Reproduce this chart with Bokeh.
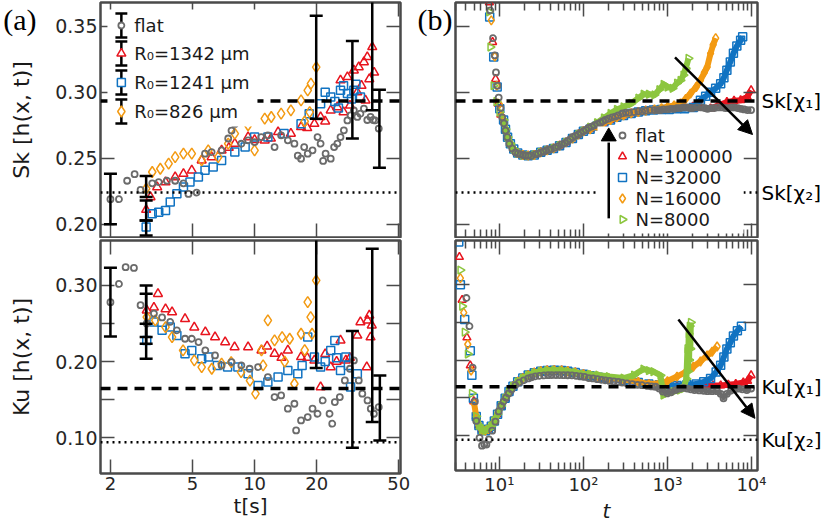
import numpy as np
from bokeh.plotting import figure
from bokeh.models import (Range1d, LinearAxis, LogAxis, FixedTicker, Whisker, TeeHead,
                          ColumnDataSource, Span, Arrow, NormalHead, BoxAnnotation, Label)
from bokeh.layouts import row, column
from bokeh.embed import file_html
from bokeh.resources import INLINE

# ------------------------------------------------------------------ ticks
a_xticks = [2, 5, 10, 20, 50]
a_xtick_labels = ["2", "5", "10", "20", "50"]
b_xticks = [10, 100, 1000, 10000]
b_xtick_labels = ["10¹", "10²", "10³", "10⁴"]
b_xminor = [m * 10 ** e for e in range(0, 4) for m in range(2, 10)]
sk_yticks = [0.20, 0.25, 0.30, 0.35]
sk_ytick_labels = ["0.20", "0.25", "0.30", "0.35"]
ku_yticks = [0.10, 0.20, 0.30]
ku_ytick_labels = ["0.10", "0.20", "0.30"]
ku_yminor = [0.15, 0.25]

# reference values: [chi1 (dashed), chi2 (dotted)]
sk_chi = [0.2934, 0.2240]
ku_chi = [0.1645, 0.0940]
sk_chi_labels = ["Sk[χ₁]", "Sk[χ₂]"]
ku_chi_labels = ["Ku[χ₁]", "Ku[χ₂]"]
a_legend_labels = ["flat", "R₀=1342 µm", "R₀=1241 µm", "R₀=826 µm"]
b_legend_labels = ["flat", "N=100000", "N=32000", "N=16000", "N=8000"]

# ------------------------------------------------------------------ panel (a): (t [s], value)
a_sk_flat = [(2.0,0.219),(2.2,0.219),(2.41,0.233),(2.62,0.238),(2.8,0.226),(3.19,0.231),(3.43,0.232),
             (3.76,0.233),(4.12,0.233),(4.52,0.231),(4.78,0.223),(5.24,0.224),(5.75,0.2535),(6.19,0.2547),
             (6.92,0.256),(7.45,0.265),(7.73,0.271),(8.02,0.276),(8.63,0.261),(9.3,0.2636),(10.0,0.2623),
             (10.77,0.2661),(11.6,0.2674),(12.5,0.2585),(13.45,0.2674),(14.5,0.2636),(15.6,0.2611),
             (16.2,0.2520),(16.8,0.2497),(17.4,0.2585),(18.1,0.2535),(19.1,0.256),(20.2,0.2661),
             (20.9,0.2611),(21.5,0.2480),(22.1,0.2535),(23.4,0.2497),(24.3,0.2585),(25.2,0.2611),
             (26.1,0.2661),(27.1,0.2712),(28.2,0.2787),(29.2,0.2825),(30.3,0.2863),(31.5,0.2813),
             (32.6,0.2838),(33.9,0.2876),(35.2,0.279),(36.5,0.2813),(37.6,0.2790),(38.5,0.2787),(40.0,0.2725)]
a_sk_r1342 = [(2.98,0.211),(3.13,0.2206),(3.37,0.2282),(3.70,0.232),(4.12,0.2358),(4.52,0.2383),
              (4.96,0.2409),(5.54,0.2484),(6.19,0.2509),(6.92,0.256),(7.5,0.2580),(8.02,0.2611),
              (9.3,0.2661),(10.0,0.2640),(11.2,0.2636),(12.0,0.2650),(13.0,0.2699),(15.0,0.2687),
              (16.8,0.2737),(18.0,0.2730),(19.5,0.2762),(20.9,0.2813),(22.0,0.2780),(23.4,0.2863),
              (25.2,0.2888),(26.1,0.3091),(27.0,0.2850),(28.2,0.3116),(29.0,0.2900),(30.3,0.3166),
              (31.5,0.3000),(32.0,0.3191),(33.0,0.3050),(33.9,0.3229),(34.5,0.2939),(35.2,0.3267),
              (36.0,0.3100),(37.2,0.3343),(38.0,0.3150)]
a_sk_r1241 = [(2.98,0.198),(3.19,0.208),(3.43,0.2092),(3.70,0.2105),(3.90,0.2168),(4.20,0.2232),
              (4.52,0.2282),(4.86,0.232),(5.34,0.2358),(5.75,0.2409),(6.30,0.2434),(6.92,0.2484),
              (8.02,0.2547),(9.0,0.2585),(10.0,0.2661),(11.6,0.2661),(13.9,0.2687),(16.8,0.2762),
              (18.4,0.2838),(20.9,0.2914),(22.0,0.3000),(23.4,0.2964),(24.5,0.2930),(25.5,0.2880),
              (26.1,0.3015),(27.0,0.3050),(28.2,0.2990),(29.5,0.2950),(30.3,0.3015),(31.0,0.3060),(32.6,0.2964)]
a_sk_r826 = [(2.98,0.227),(3.19,0.2396),(3.49,0.2421),(3.83,0.2459),(4.12,0.2509),(4.52,0.2535),
             (4.96,0.2535),(5.54,0.2484),(5.96,0.256),(6.66,0.2509),(7.45,0.2611),(8.02,0.2687),
             (9.3,0.275),(10.0,0.256),(11.2,0.28),(12.05,0.2813),(13.45,0.2838),(15.0,0.2863),
             (16.8,0.2939),(17.5,0.2780),(18.1,0.3015),(18.5,0.2850),(18.76,0.3066),(19.9,0.3191)]
# error bars (t, lower, upper)
a_sk_err = [(2.0,0.200,0.2383),(2.98,0.2206,0.2365),(2.98,0.2029,0.2181),(2.98,0.1916,0.2029),
            (19.9,0.280,0.358),(29.8,0.2649,0.3389),(37.2,0.2863,0.40),(40.3,0.2429,0.3020)]

a_ku_flat = [(2.0,0.278),(2.2,0.302),(2.37,0.324),(2.6,0.323),(2.8,0.274),(3.0,0.250),(3.25,0.263),
             (3.56,0.258),(3.9,0.252),(4.2,0.241),(4.6,0.230),(4.96,0.230),(5.35,0.2256),(5.77,0.2147),
             (6.43,0.2081),(6.92,0.195),(7.73,0.1993),(8.63,0.195),(9.46,0.1906),(10.4,0.1928),
             (11.6,0.1797),(12.5,0.1534),(13.45,0.1556),(14.5,0.1381),(15.6,0.1446),(15.9,0.1096),
             (16.8,0.1227),(18.1,0.1271),(19.1,0.1381),(20.2,0.1315),(21.4,0.149),(23.1,0.1315),
             (23.8,0.1184),(24.5,0.1468),(25.9,0.1534),(27.4,0.1753),(29.0,0.1906),(30.3,0.2015),
             (32.0,0.1753),(33.3,0.1578),(35.3,0.149),(36.6,0.1381),(37.9,0.1315),(40.0,0.1403)]
a_ku_r1342 = [(3.0,0.2672),(3.25,0.271),(3.4,0.289),(3.7,0.269),(3.98,0.265),(4.6,0.256),(5.1,0.245),
              (5.77,0.2388),(6.43,0.2322),(7.2,0.2256),(8.0,0.219),(9.3,0.219),(10.8,0.2147),(11.5,0.220),
              (12.5,0.2103),(13.5,0.205),(14.5,0.2147),(16.8,0.206),(18.0,0.205),(19.5,0.2016),
              (20.9,0.1665),(22.0,0.210),(23.4,0.1928),(25.0,0.200),(26.1,0.2278),(27.7,0.2016),
              (29.0,0.205),(31.5,0.2343),(32.6,0.2519),(35.0,0.1928),(35.3,0.254),(36.0,0.2606),
              (36.5,0.232),(37.0,0.2475)]
a_ku_r1241 = [(3.0,0.2278),(3.25,0.2519),(3.56,0.241),(3.9,0.2453),(4.2,0.2343),(4.6,0.2103),
              (4.96,0.2147),(5.54,0.2037),(5.98,0.206),(6.6,0.195),(7.4,0.1928),(8.3,0.1928),(9.3,0.184),
              (10.4,0.1687),(11.6,0.1731),(13.0,0.1797),(14.5,0.1884),(16.2,0.184),(17.0,0.195),
              (18.1,0.2322),(19.5,0.206),(20.9,0.1928),(22.0,0.200),(23.4,0.2147),(24.5,0.2278),
              (25.0,0.205),(26.1,0.1884),(27.7,0.206),(28.5,0.195),(29.2,0.1665),(31.5,0.184)]
a_ku_r826 = [(3.0,0.2584),(3.3,0.254),(3.7,0.2453),(3.98,0.232),(4.5,0.2147),(5.1,0.2016),(5.54,0.1928),
             (6.2,0.1906),(6.92,0.1972),(7.7,0.1993),(8.6,0.1862),(9.5,0.175),(10.1,0.1578),(10.8,0.2147),
             (11.0,0.195),(11.6,0.254),(12.5,0.2278),(13.6,0.232),(14.0,0.200),(14.8,0.230),(15.6,0.1709),
             (16.8,0.2365),(17.5,0.215),(18.1,0.278),(18.7,0.2584),(19.0,0.2365),(19.9,0.3066)]
a_ku_err = [(2.0,0.233,0.3232),(2.98,0.2322,0.300),(2.98,0.2234,0.2891),(2.98,0.2037,0.2497),
            (19.9,0.1914,0.45),(29.8,0.0869,0.240),(37.2,0.1205,0.3482),(40.5,0.0965,0.1818)]

# ------------------------------------------------------------------ panel (b): (t, value)
b_sk_flat = [(7.8,0.362),(8.4,0.341),(8.8,0.328),(9.1,0.315),(9.5,0.305),(9.8,0.296),(10.3,0.288),
             (10.8,0.281),(11.3,0.2765),(11.8,0.271),(12.4,0.266),(13.1,0.261),(14.2,0.2575),(15.5,0.2545),
             (16.6,0.2535),(17.8,0.253),(19.1,0.2525),(20.4,0.252),(22,0.252),(24,0.252),(26.8,0.253),
             (29,0.2535),(31,0.2545),(33.5,0.255),(36,0.256),(38.5,0.2565),(41,0.257),(46,0.258),(50,0.259),
             (55,0.2605),(60,0.2615),(65,0.263),(70,0.2645),(74,0.266),(80,0.267),(87,0.268),(93,0.2695),
             (100,0.2705),(107,0.2715),(115,0.273),(125,0.274),(135,0.275),(147,0.276),(160,0.277),
             (170,0.278),(183,0.279),(200,0.280),(220,0.281),(240,0.2815),(260,0.2825),(291,0.284),
             (320,0.2845),(350,0.2845),(400,0.285),(450,0.2855),(500,0.2855),(550,0.286),(620,0.2865),
             (700,0.2865),(760,0.2865),(825,0.2865),(900,0.287),(1000,0.287),(1100,0.2875),(1200,0.2875),
             (1300,0.288),(1420,0.288),(1550,0.2885),(1700,0.2885),(1850,0.288),(2000,0.288),(2250,0.2885),
             (2540,0.2885),(2800,0.288),(3000,0.2875),(3300,0.288),(3600,0.288),(4000,0.2885),(4450,0.2885),
             (4900,0.288),(5300,0.288),(5800,0.2885),(6300,0.2885),(6900,0.288),(7500,0.2875),(8200,0.287),
             (9000,0.2865),(9900,0.2865)]
b_sk_common = [(11.2,0.279),(11.8,0.272),(12.5,0.266),(13.5,0.261),(14.8,0.257),(16.5,0.254),(19,0.2525),
               (22,0.252),(26,0.2525),(31,0.2545),(37,0.256),(44,0.2575),(52,0.2595),(62,0.262),(74,0.265),
               (87,0.268),(100,0.2705)]
b_sk_n100000 = [(7.6,0.368),(8.3,0.338),(9.0,0.310),(9.65,0.2914),(10.4,0.283)] + b_sk_common + [
    (120,0.272),(145,0.2745),(175,0.277),(210,0.279),(250,0.281),(300,0.2825),(370,0.284),(450,0.285),
    (550,0.286),(680,0.2865),(850,0.287),(1050,0.2875),(1300,0.288),(1600,0.2885),(2000,0.289),
    (2500,0.2885),(3260,0.2878),(4000,0.290),(5100,0.2926),(6200,0.2935),(7430,0.294),(8900,0.2964),(9900,0.3015)]
b_sk_n32000 = [(7.66,0.357),(8.55,0.3267),(9.4,0.304),(10.1,0.2876)] + b_sk_common + [
    (120,0.272),(145,0.2745),(175,0.277),(210,0.279),(250,0.281),(300,0.2825),(370,0.284),(450,0.285),
    (550,0.286),(680,0.2865),(850,0.287),(1050,0.287),(1300,0.2875),(1600,0.2875),(2030,0.2885),
    (2470,0.294),(2850,0.297),(3260,0.300),(3750,0.303),(4300,0.3065),(4700,0.311),(5100,0.3167),
    (5600,0.323),(6100,0.3295),(6700,0.335),(7430,0.3394),(7860,0.342)]
b_sk_n16000 = [(8.0,0.3545),(8.8,0.327),(9.3,0.305),(10.0,0.291),(10.6,0.282)] + b_sk_common + [
    (120,0.272),(145,0.2745),(175,0.277),(210,0.279),(250,0.281),(300,0.2825),(370,0.284),(450,0.285),
    (550,0.286),(700,0.287),(850,0.288),(1000,0.289),(1200,0.290),(1430,0.2915),(1650,0.295),
    (1880,0.299),(2200,0.304),(2470,0.309),(2750,0.315),(2970,0.319),(3260,0.3295),(3500,0.336),(3750,0.341)]
b_sk_n8000 = [(7.54,0.361),(7.8,0.3343),(8.5,0.305),(9.2,0.293),(10.0,0.285)] + b_sk_common + [
    (120,0.2735),(145,0.277),(175,0.2805),(210,0.284),(250,0.287),(300,0.289),(370,0.2915),(450,0.2955),
    (520,0.2985),(600,0.2985),(700,0.298),(800,0.302),(900,0.306),(1000,0.304),(1150,0.303),(1300,0.307),
    (1430,0.309),(1550,0.313),(1650,0.318),(1780,0.3257)]

b_ku_flat = [(4.05,0.2825),(4.4,0.245),(4.8,0.19),(5.1,0.145),(5.3,0.119),(5.8,0.0965),(6.2,0.086),
             (6.6,0.088),(7.0,0.0875),(7.5,0.0943),(8.2,0.106),(8.96,0.118),(9.8,0.1316),(10.5,0.139),
             (11.2,0.1447),(12.0,0.150),(12.9,0.1556),(14.0,0.161),(15.5,0.1665),(17.2,0.170),(19.5,0.173),
             (22,0.1755),(24,0.177),(26.8,0.1783),(30,0.179),(34,0.1795),(38,0.1798),(42,0.180),(47,0.180),
             (52,0.180),(58,0.1798),(65,0.1797),(73,0.1796),(82,0.179),(92,0.1782),(103,0.1775),(116,0.176),
             (130,0.1755),(147,0.1745),(165,0.1737),(183,0.173),(205,0.1722),(230,0.1715),(260,0.1708),
             (289,0.170),(330,0.169),(380,0.168),(440,0.167),(500,0.1665),(580,0.1655),(650,0.1648),
             (720,0.1644),(800,0.162),(880,0.158),(990,0.1556),(1100,0.157),(1250,0.160),(1400,0.162),
             (1550,0.163),(1720,0.162),(1900,0.161),(2100,0.160),(2400,0.1595),(2700,0.159),(3000,0.1585),
             (3400,0.1586),(3900,0.1586),(4300,0.155),(4650,0.149),(5100,0.155),(5700,0.159),(6300,0.161),
             (7000,0.162),(7800,0.161),(8800,0.160),(9900,0.162)]
b_ku_common = [(5.3,0.125),(5.7,0.113),(6.2,0.107),(6.8,0.106),(7.4,0.108),(8.0,0.112),(8.7,0.119),
               (9.5,0.128),(10.5,0.139),(11.7,0.149),(13,0.158),(14.5,0.165),(16.5,0.171),(19,0.176),
               (22,0.180),(26,0.183),(31,0.185),(37,0.186),(45,0.1865),(55,0.186),(65,0.185),(80,0.1835),(100,0.181)]
b_ku_n100000 = [(3.34,0.337),(3.6,0.280),(4.1,0.230),(4.5,0.1927),(4.95,0.145)] + b_ku_common + [
    (120,0.179),(150,0.177),(200,0.175),(300,0.173),(450,0.170),(600,0.168),(800,0.166),(1000,0.165),
    (1300,0.165),(1700,0.165),(2200,0.164),(2800,0.165),(3500,0.166),(4300,0.166),(5300,0.167),
    (6500,0.168),(8000,0.170),(9000,0.172),(9900,0.1796)]
b_ku_n32000 = [(3.28,0.357),(3.43,0.300),(3.86,0.254),(4.5,0.2124),(4.7,0.1796),(4.9,0.149)] + b_ku_common + [
    (120,0.179),(150,0.177),(200,0.175),(300,0.173),(450,0.170),(600,0.168),(800,0.167),(1000,0.166),
    (1300,0.166),(1700,0.167),(2200,0.168),(2700,0.171),(3260,0.1753),(3800,0.184),(4300,0.193),
    (4700,0.204),(5100,0.2146),(5600,0.223),(6100,0.232),(6800,0.239),(7600,0.245)]
b_ku_n16000 = [(3.43,0.309),(3.76,0.263),(4.2,0.221),(4.6,0.186),(5.0,0.142)] + b_ku_common + [
    (120,0.180),(150,0.178),(200,0.176),(300,0.174),(450,0.171),(600,0.168),(800,0.169),(1000,0.172),
    (1300,0.178),(1650,0.184),(2030,0.191),(2470,0.198),(2970,0.206),(3400,0.211),(3900,0.218)]
b_ku_n8000 = [(3.43,0.3197),(3.6,0.2715),(3.86,0.237),(4.2,0.208),(4.7,0.1556)] + b_ku_common + [
    (120,0.181),(150,0.180),(200,0.178),(300,0.176),(400,0.180),(518,0.188),(600,0.186),(680,0.1845),
    (826,0.1796),(896,0.1533),(1000,0.156),(1180,0.158),(1400,0.160),(1550,0.162),(1680,0.175),
    (1730,0.215),(1760,0.185),(1790,0.235),(1810,0.200),(1840,0.245),(1870,0.215),(1900,0.250)]

# arrows in panel (b): (t_start, v_start, t_end, v_end)
b_sk_arrow = (1230, 0.3265, 10300, 0.268)
b_sk_up_arrow = (200, 0.2045, 200, 0.271)
b_ku_arrow = (1350, 0.254, 11000, 0.1224)

# ------------------------------------------------------------------ style / layout
FONT = "DejaVu Sans"
FRAME = "#4a4a4a"
C_FLAT, C_R, C_B, C_O, C_G = "#6b6b6b", "#e8141e", "#1173c2", "#f39a12", "#8cc63f"
A_XR, B_XR = (1.79, 51.0), (3.0, 11800.0)
SK_YR, KU_YR = (0.190, 0.368), (0.053, 0.359)
FW = 302
TOP_FH, BOT_FH = 235, 233
A_BL, A_BR, B_BL, B_BR = 98, 13, 42, 74
T_BT, T_BB, B_BT, B_BB = 2, 1, 2, 52
# legends: pixel offsets inside the frame
A_LEG = dict(rows=[23, 51, 80, 109], mark=21, text=34, box=(7, 158, 7, 124))
B_LEG = dict(rows=[133, 154, 175, 196, 217], mark=167, text=180, box=(142, 288, 124, 231))
LEG_HALF_BAR, LEG_HALF_CAP = 12, 6


def make_panel(xr, yr, fh, bt, bb, bl, br):
    p = figure(width=bl + FW + br, height=bt + fh + bb, x_axis_type="log",
               x_range=Range1d(*xr), y_range=Range1d(*yr),
               output_backend="svg", toolbar_location=None,
               min_border_top=bt, min_border_bottom=bb, min_border_left=bl, min_border_right=br)
    p.xgrid.visible = False
    p.ygrid.visible = False
    p.outline_line_color = FRAME
    p.outline_line_width = 2.5
    p.add_layout(LogAxis(), "above")
    p.add_layout(LinearAxis(), "right")
    return p


def style_axis(ax, ticks, labels=None, minor=(), minor_len=8):
    ax.ticker = FixedTicker(ticks=list(ticks), minor_ticks=list(minor))
    ax.axis_line_color = None
    ax.major_tick_in = 14
    ax.major_tick_out = 0
    ax.minor_tick_in = minor_len
    ax.minor_tick_out = 0
    ax.major_tick_line_color = FRAME
    ax.minor_tick_line_color = FRAME
    ax.major_tick_line_width = 1.5
    ax.minor_tick_line_width = 1.5
    if labels is None:
        ax.major_label_text_color = None
        ax.major_label_text_font_size = "0px"
        ax.major_label_standoff = 0
    else:
        ax.major_label_overrides = {t: l for t, l in zip(ticks, labels)}
        ax.major_label_text_font = FONT
        ax.major_label_text_font_size = "19px"
        ax.major_label_text_color = "#262626"
        ax.major_label_standoff = 3


def axis_label(ax, text, size="22px", style="normal", standoff=8):
    ax.axis_label = text
    ax.axis_label_text_font = FONT
    ax.axis_label_text_font_size = size
    ax.axis_label_text_font_style = style
    ax.axis_label_text_color = "#1a1a1a"
    ax.axis_label_standoff = standoff


def text_axis(p, side, vals, labels, standoff, font=FONT, size="20px"):
    """an axis without ticks whose labels are plain texts placed at given values"""
    ax = LinearAxis(ticker=FixedTicker(ticks=list(vals)), major_label_overrides=dict(zip(vals, labels)))
    ax.axis_line_color = None
    ax.major_tick_in = 0
    ax.major_tick_out = 0
    ax.minor_tick_in = 0
    ax.minor_tick_out = 0
    ax.major_label_standoff = standoff
    ax.major_label_text_font = font
    ax.major_label_text_font_size = size
    ax.major_label_text_color = "black"
    p.add_layout(ax, side)


def pts(p, pairs, marker, color, size, lw=1.5, angle=0.0):
    t, v = zip(*pairs)
    return p.scatter(list(t), list(v), marker=marker, size=size, angle=angle,
                     line_color=color, fill_color=None, line_width=lw)


def band(p, pairs, color, width, t_min):
    arr = np.array(pairs)
    m = arr[:, 0] >= t_min
    p.line(arr[m, 0], arr[m, 1], line_color=color, line_width=width, line_join="round")


def errbars(p, triples):
    t, lo, hi = zip(*triples)
    src = ColumnDataSource(dict(t=list(t), lo=list(lo), hi=list(hi)))
    p.add_layout(Whisker(source=src, base="t", lower="lo", upper="hi", dimension="height",
                         line_color="black", line_width=2.5, level="annotation",
                         upper_head=TeeHead(size=13, line_width=2.5, line_color="black"),
                         lower_head=TeeHead(size=13, line_width=2.5, line_color="black")))


def ref_lines(p, chi):
    p.add_layout(Span(location=chi[0], dimension="width", line_color="black",
                      line_width=3.5, line_dash="10 7"))
    p.add_layout(Span(location=chi[1], dimension="width", line_color="black",
                      line_width=2.5, line_dash="2 4"))


def arrow(p, a):
    p.add_layout(Arrow(x_start=a[0], y_start=a[1], x_end=a[2], y_end=a[3], line_width=2.5,
                       line_color="black", level="overlay",
                       end=NormalHead(size=14, fill_color="black", line_color="black")))


def px_to_data(xr, yr, fh, px, py):
    """pixel offset from the top-left corner of a frame -> data coordinates"""
    lx0, lx1 = np.log10(xr[0]), np.log10(xr[1])
    x = 10 ** (lx0 + px / FW * (lx1 - lx0))
    y = yr[1] - py / fh * (yr[1] - yr[0])
    return float(x), float(y)


def manual_legend(p, xr, yr, fh, leg, styles, labels, bars=False):
    c = lambda px, py: px_to_data(xr, yr, fh, px, py)
    x0, y0 = c(leg["box"][0], leg["box"][2])
    x1, y1 = c(leg["box"][1], leg["box"][3])
    p.add_layout(BoxAnnotation(left=x0, right=x1, top=y0, bottom=y1, fill_color="white",
                               fill_alpha=1.0, line_color=None))
    for py, (mk, col, sz, lw, ang), lab in zip(leg["rows"], styles, labels):
        xm, yc = c(leg["mark"], py)
        if bars:
            _, ylo = c(0, py + LEG_HALF_BAR)
            _, yhi = c(0, py - LEG_HALF_BAR)
            xl, _ = c(leg["mark"] - LEG_HALF_CAP, py)
            xr_, _ = c(leg["mark"] + LEG_HALF_CAP, py)
            s = p.segment(x0=[xm, xl, xl], y0=[ylo, ylo, yhi], x1=[xm, xr_, xr_], y1=[yhi, ylo, yhi],
                          line_color="black", line_width=2.5)
            s.level = "overlay"
        r = p.scatter([xm], [yc], marker=mk, size=sz, angle=ang, line_color=col,
                      fill_color="white", line_width=lw)
        r.level = "overlay"
        xt, _ = c(leg["text"], py)
        p.add_layout(Label(x=xt, y=yc, text=lab, text_baseline="middle", text_align="left",
                           text_font=FONT, text_font_size="18px", text_color="#1a1a1a"))


# ------------------------------------------------------------------ panel (a) top
tl = make_panel(A_XR, SK_YR, TOP_FH, T_BT, T_BB, A_BL, A_BR)
style_axis(tl.below[0], a_xticks)
style_axis(tl.above[0], a_xticks)
style_axis(tl.left[0], sk_yticks, sk_ytick_labels)
style_axis(tl.right[0], sk_yticks)
axis_label(tl.left[0], "Sk [h(x, t)]", standoff=18)
_, tag_y = px_to_data(A_XR, SK_YR, TOP_FH, 0, 17)
text_axis(tl, "left", [tag_y], ["(a)"], -30, font="Liberation Serif", size="30px")
ref_lines(tl, sk_chi)
a_styles = [("circle", C_FLAT, 6, 1.8, 0.0), ("triangle", C_R, 9, 1.5, 0.0),
            ("square", C_B, 8, 1.5, 0.0), ("diamond", C_O, 11, 1.5, 0.0)]
a_sk_series = [a_sk_flat, a_sk_r1342, a_sk_r1241, a_sk_r826]
for k in (1, 2, 3, 0):
    mk, col, sz, lw, _ = a_styles[k]
    pts(tl, a_sk_series[k], mk, col, sz, lw=lw)
errbars(tl, a_sk_err)
manual_legend(tl, A_XR, SK_YR, TOP_FH, A_LEG, a_styles, a_legend_labels, bars=True)

# ------------------------------------------------------------------ panel (a) bottom
bl = make_panel(A_XR, KU_YR, BOT_FH, B_BT, B_BB, A_BL, A_BR)
style_axis(bl.below[0], a_xticks, a_xtick_labels)
style_axis(bl.above[0], a_xticks)
style_axis(bl.left[0], ku_yticks, ku_ytick_labels, minor=ku_yminor, minor_len=14)
style_axis(bl.right[0], ku_yticks, minor=ku_yminor, minor_len=14)
bl.below[0].major_label_text_font_size = "18px"
axis_label(bl.left[0], "Ku [h(x, t)]", standoff=18)
axis_label(bl.below[0], "t[s]", size="20px", standoff=1)
ref_lines(bl, ku_chi)
a_ku_series = [a_ku_flat, a_ku_r1342, a_ku_r1241, a_ku_r826]
for k in (1, 2, 3, 0):
    mk, col, sz, lw, _ = a_styles[k]
    pts(bl, a_ku_series[k], mk, col, sz, lw=lw)
errbars(bl, a_ku_err)

# ------------------------------------------------------------------ panel (b) top
tr = make_panel(B_XR, SK_YR, TOP_FH, T_BT, T_BB, B_BL, B_BR)
style_axis(tr.below[0], b_xticks, minor=b_xminor)
style_axis(tr.above[0], b_xticks, minor=b_xminor)
style_axis(tr.left[0], sk_yticks)
style_axis(tr.right[0], sk_yticks)
text_axis(tr, "right", sk_chi, sk_chi_labels, 4)
text_axis(tr, "left", [tag_y], ["(b)"], 3, font="Liberation Serif", size="30px")
ref_lines(tr, sk_chi)
b_styles = [("circle", C_FLAT, 6, 1.8, 0.0), ("triangle", C_R, 8, 1.5, 0.0),
            ("square", C_B, 8, 1.5, 0.0), ("diamond", C_O, 9, 1.5, 0.0),
            ("triangle", C_G, 8, 1.5, -np.pi / 2)]
b_sk_series = [b_sk_flat, b_sk_n100000, b_sk_n32000, b_sk_n16000, b_sk_n8000]
for k in (1, 2, 3, 4):
    mk, col, sz, lw, ang = b_styles[k]
    band(tr, b_sk_series[k], col, 6, 11)
    pts(tr, b_sk_series[k], mk, col, sz, lw=lw, angle=ang)
band(tr, b_sk_flat, C_FLAT, 4, 700)
pts(tr, b_sk_flat, "circle", C_FLAT, 6, lw=1.8)
manual_legend(tr, B_XR, SK_YR, TOP_FH, B_LEG, b_styles, b_legend_labels)
arrow(tr, b_sk_arrow)
# vertical arrow drawn as glyphs so that it lies above the legend box
ux, uy0, _, uy1 = b_sk_up_arrow
_, head_off = px_to_data(B_XR, SK_YR, TOP_FH, 0, 6)
_, head_len = px_to_data(B_XR, SK_YR, TOP_FH, 0, 12)
d6 = SK_YR[1] - head_off
d12 = SK_YR[1] - head_len
up_line = tr.segment(x0=[ux], y0=[uy0], x1=[ux], y1=[uy1 - d12], line_color="black", line_width=2.5)
up_line.level = "overlay"
up_head = tr.scatter([ux], [uy1 - d6], marker="triangle", size=15, fill_color="black",
                     line_color="black", line_width=1)
up_head.level = "overlay"

# ------------------------------------------------------------------ panel (b) bottom
br = make_panel(B_XR, KU_YR, BOT_FH, B_BT, B_BB, B_BL, B_BR)
style_axis(br.below[0], b_xticks, b_xtick_labels, minor=b_xminor)
style_axis(br.above[0], b_xticks, minor=b_xminor)
style_axis(br.left[0], ku_yticks, minor=ku_yminor, minor_len=14)
style_axis(br.right[0], ku_yticks, minor=ku_yminor, minor_len=14)
text_axis(br, "right", ku_chi, ku_chi_labels, 4)
br.below[0].major_label_text_font_size = "18px"
axis_label(br.below[0], "t", size="20px", style="italic", standoff=1)
ref_lines(br, ku_chi)
b_ku_series = [b_ku_flat, b_ku_n100000, b_ku_n32000, b_ku_n16000, b_ku_n8000]
for k in (1, 2, 3, 4):
    mk, col, sz, lw, ang = b_styles[k]
    band(br, b_ku_series[k], col, 6, 5)
    pts(br, b_ku_series[k], mk, col, sz, lw=lw, angle=ang)
band(br, b_ku_flat, C_FLAT, 4, 700)
pts(br, b_ku_flat, "circle", C_FLAT, 6, lw=1.8)
arrow(br, b_ku_arrow)

layout = row(column(tl, bl), column(tr, br))
open("out.html", "w").write(file_html(layout, INLINE, "Sk and Ku"))
